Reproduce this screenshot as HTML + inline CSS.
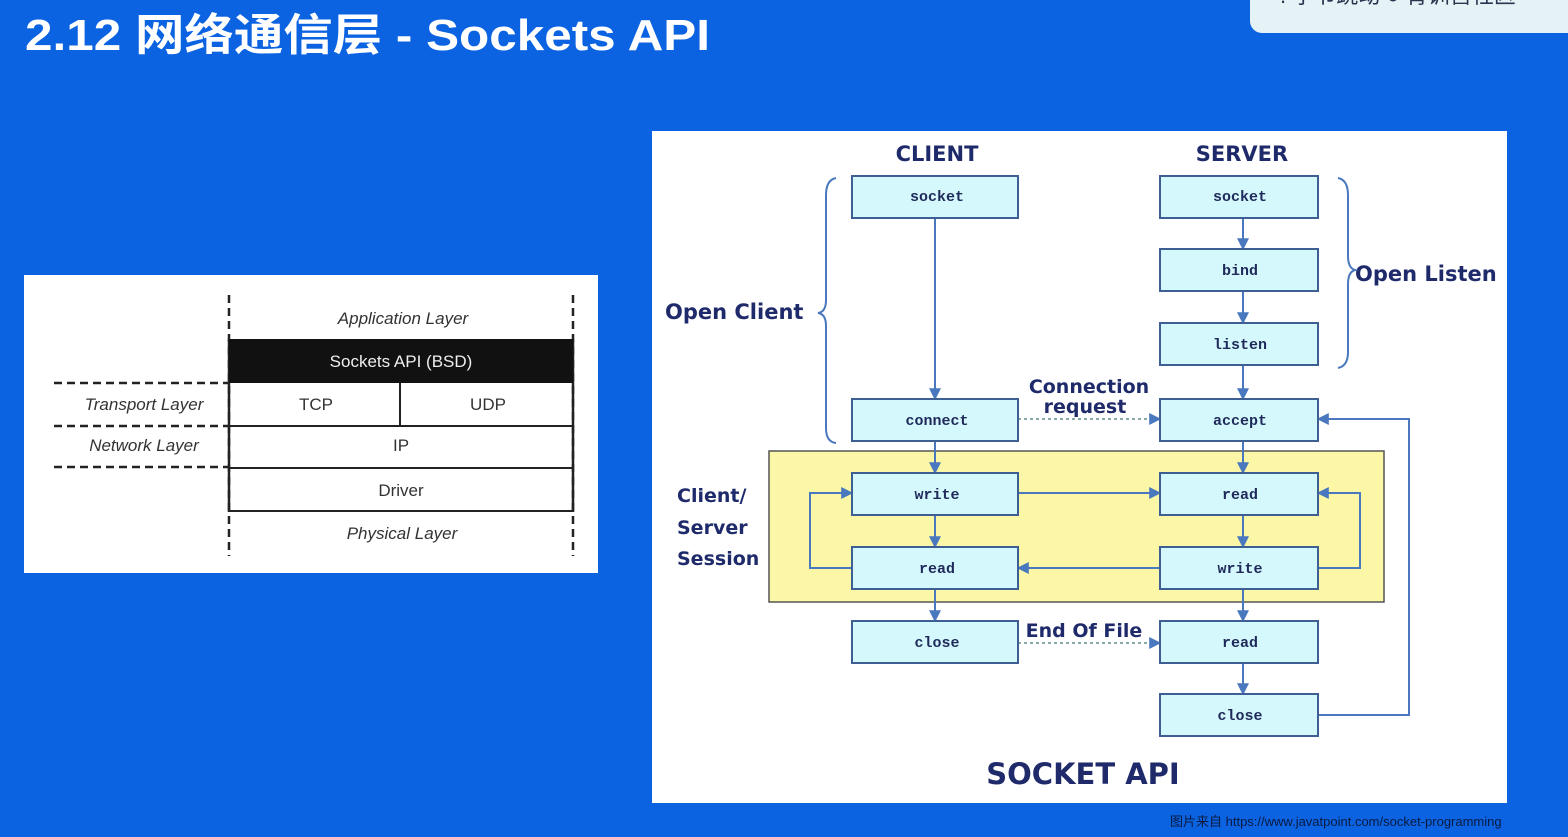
<!DOCTYPE html>
<html><head><meta charset="utf-8"><style>
body{margin:0;width:1568px;height:837px;overflow:hidden;background:#0b63e2;}
svg{display:block}
</style></head><body>
<svg width="1568" height="837" viewBox="0 0 1568 837" xmlns="http://www.w3.org/2000/svg">
<defs>
<marker id="a" viewBox="0 0 10 10" refX="9" refY="5" markerWidth="6" markerHeight="6" orient="auto"><path d="M0,0L10,5L0,10z" fill="#4a78be"/></marker>
</defs>
<rect width="1568" height="837" fill="#0b63e2"/>
<!-- top right badge -->
<rect x="1250" y="-20" width="340" height="53" rx="12" fill="#e6f3f6"/>
<text x="1280" y="3" font-family="Liberation Sans,Noto Sans CJK SC,sans-serif" font-size="22" fill="#2a3550">⁞ 字节跳动   ● 青训营社区</text>
<text x="25" y="50" font-family="Liberation Sans,Noto Sans CJK SC,sans-serif" font-size="44" font-weight="bold" fill="#fff" textLength="685" lengthAdjust="spacingAndGlyphs">2.12 网络通信层 - Sockets API</text>

<!-- left diagram -->
<rect x="24" y="275" width="574" height="298" fill="#fff"/>
<g stroke="#222" stroke-width="2.5" fill="none">
<line x1="229" y1="295" x2="229" y2="556" stroke-dasharray="8,5"/>
<line x1="573" y1="295" x2="573" y2="556" stroke-dasharray="8,5"/>
<line x1="229" y1="339" x2="229" y2="512"/>
<line x1="573" y1="339" x2="573" y2="512"/>
<line x1="54" y1="383" x2="229" y2="383" stroke-dasharray="8,5"/>
<line x1="54" y1="426" x2="229" y2="426" stroke-dasharray="8,5"/>
<line x1="54" y1="467" x2="229" y2="467" stroke-dasharray="8,5"/>
<line x1="229" y1="426" x2="573" y2="426" stroke-width="2"/>
<line x1="229" y1="468" x2="573" y2="468" stroke-width="2"/>
<line x1="229" y1="511" x2="573" y2="511" stroke-width="2"/>
<line x1="400" y1="383" x2="400" y2="426" stroke-width="2"/>
</g>
<rect x="229" y="339" width="344" height="44" fill="#111"/>
<g font-family="Liberation Sans,sans-serif" font-size="17" fill="#333" text-anchor="middle">
<text x="403" y="324" font-style="italic">Application Layer</text>
<text x="401" y="367" fill="#eee">Sockets API (BSD)</text>
<text x="316" y="410">TCP</text>
<text x="488" y="410">UDP</text>
<text x="144" y="410" font-style="italic">Transport Layer</text>
<text x="144" y="451" font-style="italic">Network Layer</text>
<text x="401" y="451">IP</text>
<text x="401" y="496">Driver</text>
<text x="402" y="539" font-style="italic">Physical Layer</text>
</g>

<!-- right diagram -->
<rect x="652" y="131" width="855" height="672" fill="#fff"/>
<rect x="769" y="451" width="615" height="151" fill="#fbf7a6" stroke="#555" stroke-width="1.5"/>
<g font-family="DejaVu Sans,Liberation Sans,sans-serif" font-weight="bold" fill="#1f2a6b">
<text x="937" y="161" font-size="21" text-anchor="middle">CLIENT</text>
<text x="1242" y="161" font-size="21" text-anchor="middle">SERVER</text>
<text x="665" y="319" font-size="21">Open Client</text>
<text x="1355" y="281" font-size="21">Open Listen</text>
<text x="1089" y="393" font-size="19" text-anchor="middle">Connection</text>
<text x="1085" y="413" font-size="19" text-anchor="middle">request</text>
<text x="1084" y="637" font-size="19" text-anchor="middle">End Of File</text>
<text x="677" y="502" font-size="19">Client/</text>
<text x="677" y="534" font-size="19">Server</text>
<text x="677" y="565" font-size="19">Session</text>
<text x="1083" y="784" font-size="29" text-anchor="middle">SOCKET API</text>
</g>
<!-- braces -->
<g stroke="#4a78be" stroke-width="2" fill="none">
<path d="M836,178 Q826,180 826,195 L826,300 Q826,312 818,313 Q826,314 826,326 L826,428 Q826,442 836,443"/>
<path d="M1338,178 Q1348,180 1348,195 L1348,256 Q1348,268 1355,270 Q1348,272 1348,284 L1348,352 Q1348,366 1338,368"/>
</g>
<!-- connectors -->
<g stroke="#4a78be" stroke-width="2" fill="none" marker-end="url(#a)">
<line x1="935" y1="218" x2="935" y2="399"/>
<line x1="935" y1="441" x2="935" y2="473"/>
<line x1="935" y1="515" x2="935" y2="547"/>
<line x1="935" y1="589" x2="935" y2="621"/>
<line x1="1243" y1="218" x2="1243" y2="249"/>
<line x1="1243" y1="291" x2="1243" y2="323"/>
<line x1="1243" y1="365" x2="1243" y2="399"/>
<line x1="1243" y1="441" x2="1243" y2="473"/>
<line x1="1243" y1="515" x2="1243" y2="547"/>
<line x1="1243" y1="589" x2="1243" y2="621"/>
<line x1="1243" y1="663" x2="1243" y2="694"/>
<line x1="1018" y1="493" x2="1160" y2="493"/>
<line x1="1160" y1="568" x2="1018" y2="568"/>
<polyline points="852,568 810,568 810,493 852,493"/>
<polyline points="1318,568 1360,568 1360,493 1318,493"/>
<polyline points="1318,715 1409,715 1409,419 1318,419"/>
<line x1="1018" y1="419" x2="1160" y2="419" stroke-dasharray="3,3" stroke="#8aa"/>
<line x1="1018" y1="643" x2="1160" y2="643" stroke-dasharray="3,3" stroke="#8aa"/>
</g>
<!-- boxes -->
<g stroke="#3d5f94" stroke-width="2" fill="#d4f8fc">
<rect x="852" y="176" width="166" height="42"/>
<rect x="852" y="399" width="166" height="42"/>
<rect x="852" y="473" width="166" height="42"/>
<rect x="852" y="547" width="166" height="42"/>
<rect x="852" y="621" width="166" height="42"/>
<rect x="1160" y="176" width="158" height="42"/>
<rect x="1160" y="249" width="158" height="42"/>
<rect x="1160" y="323" width="158" height="42"/>
<rect x="1160" y="399" width="158" height="42"/>
<rect x="1160" y="473" width="158" height="42"/>
<rect x="1160" y="547" width="158" height="42"/>
<rect x="1160" y="621" width="158" height="42"/>
<rect x="1160" y="694" width="158" height="42"/>
</g>
<g font-family="Liberation Mono,monospace" font-weight="bold" font-size="15" fill="#1f2a5b" text-anchor="middle">
<text x="937" y="201">socket</text>
<text x="937" y="425">connect</text>
<text x="937" y="499">write</text>
<text x="937" y="573">read</text>
<text x="937" y="647">close</text>
<text x="1240" y="201">socket</text>
<text x="1240" y="275">bind</text>
<text x="1240" y="349">listen</text>
<text x="1240" y="425">accept</text>
<text x="1240" y="499">read</text>
<text x="1240" y="573">write</text>
<text x="1240" y="647">read</text>
<text x="1240" y="720">close</text>
</g>
<text x="1170" y="826" font-family="Liberation Sans,Noto Sans CJK SC,sans-serif" font-size="13" fill="#0a1a40">图片来自 https://www.javatpoint.com/socket-programming</text>
</svg>
</body></html>
